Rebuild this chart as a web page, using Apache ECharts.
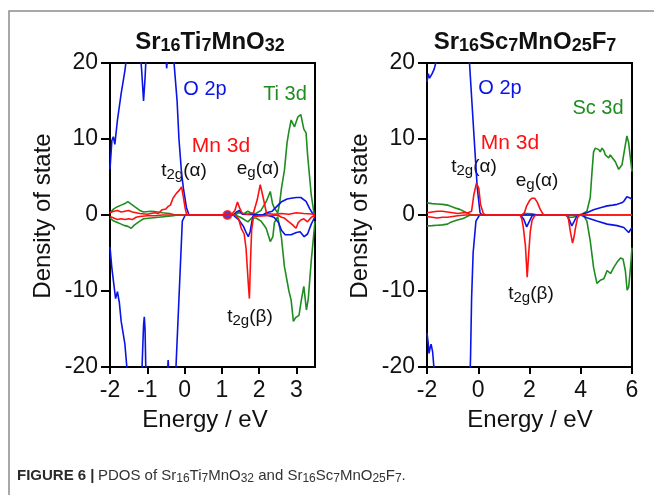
<!DOCTYPE html>
<html>
<head>
<meta charset="utf-8">
<script src="https://cdn.jsdelivr.net/npm/echarts@6/dist/echarts.min.js"></script>
<style>
  html, body { margin: 0; padding: 0; background: #fff; }
  #main { width: 654px; height: 495px; }
</style>
</head>
<body>
<div id="main"></div>
<script>
// ---- data: [energy (eV), density of state] ----
// left panel: Sr16Ti7MnO32
const leftO2pUp = [[-2, 6], [-1.95, 9.8], [-1.91, 10.3], [-1.87, 9.3], [-1.8, 12.5], [-1.7, 16], [-1.6, 19], [-1.5, 23], [-1.3, 26], [-1.2, 22], [-1.15, 19], [-1.1, 15], [-1.06, 18], [-1.02, 22], [-0.8, 26], [-0.6, 25], [-0.5, 21], [-0.48, 19.3], [-0.45, 21], [-0.35, 25], [-0.29, 20.5], [-0.2, 15], [-0.15, 10], [-0.08, 5.5], [-0.03, 3.5], [0.05, 1], [0.12, 0], [1.3, 0], [1.4, 0.4], [1.47, 0.6], [1.55, 0.1], [2.1, 0], [2.2, 0.3], [2.35, 0.5], [2.45, 1.0], [2.59, 1.7], [2.75, 2.1], [2.86, 2.2], [3.0, 2.3], [3.12, 2.3], [3.26, 1.8], [3.36, 0.8], [3.46, 0], [3.5, 0]];
const leftO2pDown = [[-2, -4.2], [-1.95, -7], [-1.9, -9], [-1.85, -11], [-1.8, -10.1], [-1.75, -11.5], [-1.7, -14], [-1.6, -17], [-1.54, -20.5], [-1.4, -25], [-1.2, -24], [-1.14, -20], [-1.1, -14.5], [-1.08, -13.4], [-1.06, -15], [-1.04, -20], [-0.9, -25], [-0.6, -24], [-0.46, -21], [-0.44, -19.1], [-0.42, -21], [-0.3, -25], [-0.23, -20], [-0.15, -11], [-0.06, -0.8], [0.02, 0], [1.3, 0], [1.45, -0.6], [1.58, -1.5], [1.66, -2.4], [1.71, -2.85], [1.76, -2.2], [1.83, -0.2], [1.9, 0], [2.2, 0], [2.4, -0.3], [2.52, -1.0], [2.6, -2.0], [2.7, -2.6], [2.86, -2.6], [3.0, -2.3], [3.1, -2.2], [3.21, -2.85], [3.3, -2.5], [3.4, -1.2], [3.5, -0.2]];
const leftMnUp = [[-2, 0.3], [-1.9, 0.5], [-1.8, 0.6], [-1.7, 0.4], [-1.6, 0.5], [-1.5, 0.6], [-1.4, 0.4], [-1.3, 0.3], [-1.2, 0.2], [-1.0, 0.1], [-0.8, 0.3], [-0.7, 0.2], [-0.6, 0.7], [-0.5, 0.8], [-0.45, 1.1], [-0.38, 1.3], [-0.31, 2.2], [-0.22, 2.85], [-0.15, 3.2], [-0.08, 3.7], [-0.04, 2.6], [0.02, 0.8], [0.06, 0], [1.25, 0], [1.35, 0.6], [1.42, 1.7], [1.48, 0.9], [1.55, 0.2], [1.7, 0.1], [1.85, 0.3], [1.95, 2.0], [2.03, 4.0], [2.1, 2.5], [2.2, 0.2], [2.4, 0.1], [2.6, 0.2], [2.8, 0.1], [3.0, 0.3], [3.2, 0.2], [3.5, 0.1]];
const leftMnDown = [[-2, -0.2], [-1.9, -0.4], [-1.8, -0.6], [-1.7, -0.5], [-1.6, -0.6], [-1.5, -0.5], [-1.4, -0.6], [-1.3, -0.3], [-1.2, -0.2], [-1.0, -0.1], [-0.8, -0.1], [-0.6, 0], [1.35, 0], [1.45, -0.5], [1.52, -1.75], [1.6, -2.5], [1.65, -4.4], [1.71, -9], [1.74, -11], [1.77, -6], [1.8, -2.0], [1.85, -0.2], [1.9, 0], [2.5, 0], [2.6, -0.3], [2.68, -0.4], [2.8, -0.9], [2.9, -1.3], [2.99, -1.75], [3.05, -1.0], [3.12, -0.66], [3.2, -0.5], [3.3, -0.9], [3.4, -0.3], [3.5, -0.1]];
const leftTiUp = [[-2, 0.3], [-1.9, 0.8], [-1.8, 1.1], [-1.7, 1.3], [-1.6, 1.5], [-1.52, 1.75], [-1.45, 1.5], [-1.34, 1.1], [-1.2, 0.6], [-1.1, 0.4], [-0.9, 0.5], [-0.8, 0.45], [-0.6, 0.3], [-0.4, 0.2], [-0.25, 0], [1.35, 0], [1.45, 0.3], [1.6, 0.2], [1.7, 0.5], [1.8, 0.2], [1.92, 0.2], [2.05, 0.6], [2.19, 1.75], [2.3, 3.1], [2.36, 1.5], [2.41, 0.9], [2.5, 0.3], [2.55, 1.5], [2.6, 3.5], [2.68, 5.9], [2.75, 9.5], [2.8, 11], [2.86, 12.5], [2.95, 11.6], [3.04, 12.9], [3.12, 13.2], [3.2, 11.3], [3.26, 10.8], [3.3, 8], [3.4, 2.6], [3.48, 0], [3.5, 0]];
const leftTiDown = [[-2, -0.4], [-1.9, -0.8], [-1.8, -1.0], [-1.7, -1.2], [-1.6, -1.4], [-1.52, -1.5], [-1.43, -1.75], [-1.34, -1.3], [-1.2, -0.8], [-1.1, -0.5], [-0.9, -0.4], [-0.7, -0.3], [-0.5, -0.2], [-0.3, -0.1], [-0.2, 0], [1.35, 0], [1.5, -0.3], [1.7, -0.9], [1.8, -0.4], [1.92, -0.4], [2.05, -0.8], [2.19, -1.75], [2.3, -3.5], [2.37, -2.85], [2.41, -1.0], [2.5, -0.2], [2.6, -3], [2.68, -6.8], [2.8, -10], [2.86, -11.2], [2.92, -14], [2.98, -13.5], [3.07, -13.2], [3.14, -11], [3.2, -9.4], [3.27, -12.5], [3.32, -11], [3.4, -6], [3.5, -0.8]];
const leftDot = [[1.15, 0]];

// right panel: Sr16Sc7MnO25F7
const rightO2pUp = [[-2, 17.5], [-1.95, 18.6], [-1.9, 18.0], [-1.85, 17.8], [-1.8, 18.6], [-1.72, 19.2], [-1.62, 20.5], [-1.5, 24], [-1.0, 27], [-0.6, 26], [-0.4, 23], [-0.35, 20.5], [-0.25, 15], [-0.16, 10.1], [-0.04, 3.6], [0.07, 0.3], [0.15, 0], [3.9, 0], [4.05, 0.1], [4.24, 0.3], [4.5, 0.7], [4.8, 1.0], [5.03, 1.2], [5.25, 1.3], [5.42, 1.4], [5.6, 1.6], [5.68, 1.8], [5.8, 2.4], [5.87, 2.5], [5.95, 2.2], [6, 2.0]];
const rightO2pDown = [[-2, -15.5], [-1.95, -17], [-1.92, -18.2], [-1.88, -17.5], [-1.84, -17.0], [-1.78, -18.0], [-1.72, -20.5], [-1.5, -25], [-0.8, -26], [-0.4, -23], [-0.32, -21], [-0.3, -18.6], [-0.26, -11], [-0.2, -5], [-0.09, -0.8], [0.05, 0], [1.65, 0], [1.78, -0.6], [1.89, -1.56], [2.0, -0.8], [2.1, -0.1], [2.2, 0], [3.45, 0], [3.55, -0.6], [3.65, -1.43], [3.75, -0.8], [3.85, -0.1], [4.0, 0], [4.24, -0.35], [4.63, -0.8], [5.03, -1.2], [5.42, -1.4], [5.68, -1.65], [5.87, -2.3], [6, -1.65]];
const rightMnUp = [[-2, 0.3], [-1.8, 0.4], [-1.6, 0.5], [-1.4, 0.5], [-1.2, 0.4], [-1.0, 0.3], [-0.8, 0.2], [-0.6, 0.3], [-0.4, 0.3], [-0.26, 0.5], [-0.17, 2.7], [-0.07, 4.2], [-0.03, 4.3], [0.02, 3.5], [0.09, 1.4], [0.2, 0.17], [0.3, 0], [1.7, 0], [1.8, 0.3], [1.89, 1.2], [2.0, 1.9], [2.09, 2.2], [2.2, 2.2], [2.3, 1.7], [2.42, 0.74], [2.55, 0], [6, 0]];
const rightMnDown = [[-2, -0.2], [-1.8, -0.3], [-1.6, -0.4], [-1.4, -0.3], [-1.2, -0.3], [-1.0, -0.2], [-0.8, -0.1], [-0.5, 0], [1.63, 0], [1.7, -0.5], [1.76, -1.65], [1.84, -4], [1.91, -8.2], [1.97, -5], [2.03, -2.2], [2.1, -0.7], [2.2, -0.1], [2.3, 0], [3.45, 0], [3.52, -0.5], [3.59, -2.1], [3.68, -3.7], [3.73, -3.0], [3.79, -1.8], [3.87, -0.4], [3.95, 0], [6, 0]];
const rightScUp = [[-2, 1.6], [-1.8, 1.5], [-1.6, 1.45], [-1.4, 1.4], [-1.2, 1.3], [-1.1, 1.17], [-0.95, 1.0], [-0.85, 0.87], [-0.72, 0.74], [-0.59, 0.52], [-0.45, 0.3], [-0.3, 0.05], [-0.2, 0], [1.7, 0], [1.85, 0.2], [2.1, 0.15], [2.3, 0], [3.9, 0], [4.05, 0.1], [4.24, 0.5], [4.37, 2.3], [4.44, 5.7], [4.5, 8.3], [4.57, 8.8], [4.63, 8.7], [4.7, 8.6], [4.76, 8.3], [4.83, 8.8], [4.9, 8.5], [4.96, 7.9], [5.09, 7.5], [5.15, 7.9], [5.22, 7.9], [5.35, 7.0], [5.48, 6.0], [5.55, 5.8], [5.61, 6.6], [5.68, 8], [5.74, 9.2], [5.8, 10.4], [5.87, 9.5], [5.91, 8.3], [6, 5.7]];
const rightScDown = [[-2, -1.43], [-1.8, -1.4], [-1.6, -1.35], [-1.4, -1.3], [-1.2, -1.2], [-1.1, -1.0], [-0.85, -0.7], [-0.59, -0.45], [-0.4, -0.15], [-0.3, 0], [3.4, 0], [3.55, -0.3], [3.7, -0.3], [3.9, 0], [4.1, 0], [4.24, -0.8], [4.37, -3.4], [4.5, -6.9], [4.63, -9.0], [4.76, -8.6], [4.9, -8.4], [5.03, -7.3], [5.16, -7.7], [5.29, -6.9], [5.42, -6.2], [5.55, -5.65], [5.65, -5.8], [5.74, -7.3], [5.81, -9.9], [5.87, -9.5], [5.94, -7.0], [6, -4.3]];

// tick labels
const leftXTicks = [-2, -1, 0, 1, 2, 3];
const rightXTicks = [-2, 0, 2, 4, 6];
const yTicks = [-20, -10, 0, 10, 20];

const FONT = '"Liberation Sans", Arial, Helvetica, sans-serif';
const BLUE = '#0a14e6';
const RED = '#ff1010';
const GREEN = '#1f8c1f';

const chart = echarts.init(document.getElementById('main'));

// x / y axis settings shared by both panels
function xAxisFor (gridIndex, max, interval, ticks) {
  return {
    type: 'value', gridIndex: gridIndex, min: -2, max: max, interval: interval,
    axisLine: { show: true, onZero: false, lineStyle: { color: '#000', width: 2 } },
    axisTick: { show: true, length: 7, customValues: ticks, lineStyle: { color: '#000', width: 2 } },
    axisLabel: { customValues: ticks, margin: 12, color: '#111', fontSize: 23, fontFamily: FONT },
    splitLine: { show: false }
  }
}
function yAxisFor (gridIndex) {
  return {
    type: 'value', gridIndex: gridIndex, min: -20, max: 20, interval: 10,
    axisLine: { show: true, onZero: false, lineStyle: { color: '#000', width: 2 } },
    axisTick: { show: true, length: 9, customValues: yTicks, lineStyle: { color: '#000', width: 2 } },
    axisLabel: { customValues: yTicks, margin: 12, color: '#111', fontSize: 23, fontFamily: FONT },
    splitLine: { show: false }
  }
}
function line (idx, data, color) {
  return {
    type: 'line', xAxisIndex: idx, yAxisIndex: idx, data: data,
    symbol: 'none', smooth: false, clip: true, silent: true,
    lineStyle: { color: color, width: 1.6 }
  }
}

// rich styles for subscripts
const titleRich = {
  n: { fontSize: 24, fontWeight: 'bold', fontFamily: FONT, lineHeight: 27, fill: '#111', verticalAlign: 'middle' },
  s: { fontSize: 18, fontWeight: 'bold', fontFamily: FONT, lineHeight: 18, fill: '#111', verticalAlign: 'bottom' }
}
function labelRich (color) {
  return {
    n: { fontSize: 19, fontFamily: FONT, lineHeight: 22, fill: color, verticalAlign: 'middle' },
    s: { fontSize: 15, fontFamily: FONT, lineHeight: 14, fill: color, verticalAlign: 'bottom' }
  }
}
function txt (x, y, text, size, color, extra) {
  return Object.assign({
    type: 'text', x: x, y: y, silent: true,
    style: { text: text, fontSize: size, fontFamily: FONT, fill: color, align: 'center', verticalAlign: 'middle' }
  }, extra || {})
}
function richTxt (x, y, text, rich) {
  return {
    type: 'text', x: x, y: y, silent: true,
    style: { text: text, rich: rich, align: 'center', verticalAlign: 'middle' }
  }
}

const option = {
  animation: false,
  backgroundColor: '#fff',
  grid: [
    { left: 110, top: 63, width: 205, height: 304, show: true, borderColor: '#000', borderWidth: 2, outerBoundsMode: 'none', containLabel: false },
    { left: 427, top: 63, width: 205, height: 304, show: true, borderColor: '#000', borderWidth: 2, outerBoundsMode: 'none', containLabel: false }
  ],
  xAxis: [xAxisFor(0, 3.5, 1, leftXTicks), xAxisFor(1, 6, 2, rightXTicks)],
  yAxis: [yAxisFor(0), yAxisFor(1)],
  series: [
    line(0, leftTiUp, GREEN), line(0, leftTiDown, GREEN),
    line(0, leftO2pUp, BLUE), line(0, leftO2pDown, BLUE),
    line(0, leftMnUp, RED), line(0, leftMnDown, RED),
    {
      type: 'scatter', xAxisIndex: 0, yAxisIndex: 0, data: leftDot, symbolSize: 8, silent: true,
      itemStyle: { color: BLUE, borderColor: RED, borderWidth: 2 }
    },
    line(1, rightScUp, GREEN), line(1, rightScDown, GREEN),
    line(1, rightO2pUp, BLUE), line(1, rightO2pDown, BLUE),
    line(1, rightMnUp, RED), line(1, rightMnDown, RED)
  ],
  graphic: [
    // outer figure frame
    { type: 'polyline', silent: true, shape: { points: [[9, 495], [9, 11], [654, 11]] }, style: { stroke: '#8c8c8c', lineWidth: 1.5, fill: null } },
    // panel titles
    richTxt(210, 42, '{n|Sr}{s|16}{n|Ti}{s|7}{n|MnO}{s|32}', titleRich),
    richTxt(525, 42, '{n|Sr}{s|16}{n|Sc}{s|7}{n|MnO}{s|25}{n|F}{s|7}', titleRich),
    // axis names
    txt(43, 216, 'Density of state', 24, '#111', { rotation: Math.PI / 2 }),
    txt(360, 216, 'Density of state', 24, '#111', { rotation: Math.PI / 2 }),
    txt(205, 420, 'Energy / eV', 24, '#111'),
    txt(530, 420, 'Energy / eV', 24, '#111'),
    // left annotations
    txt(205, 89, 'O 2p', 20, BLUE),
    txt(285, 94, 'Ti 3d', 20, GREEN),
    txt(221, 146, 'Mn 3d', 21, RED),
    richTxt(184, 171, '{n|t}{s|2g}{n|(α)}', labelRich('#111')),
    richTxt(258, 169, '{n|e}{s|g}{n|(α)}', labelRich('#111')),
    richTxt(250, 317, '{n|t}{s|2g}{n|(β)}', labelRich('#111')),
    // right annotations
    txt(500, 88, 'O 2p', 20, BLUE),
    txt(598, 108, 'Sc 3d', 20, GREEN),
    txt(510, 143, 'Mn 3d', 21, RED),
    richTxt(474, 167, '{n|t}{s|2g}{n|(α)}', labelRich('#111')),
    richTxt(537, 181, '{n|e}{s|g}{n|(α)}', labelRich('#111')),
    richTxt(531, 294, '{n|t}{s|2g}{n|(β)}', labelRich('#111')),
    // caption
    {
      type: 'text', x: 17, y: 476, silent: true,
      style: {
        text: '{b|FIGURE 6 |} {n|PDOS of Sr}{s|16}{n|Ti}{s|7}{n|MnO}{s|32}{n| and Sr}{s|16}{n|Sc}{s|7}{n|MnO}{s|25}{n|F}{s|7}{n|.}',
        align: 'left', verticalAlign: 'middle',
        rich: {
          b: { fontSize: 15, fontWeight: 'bold', fontFamily: FONT, fill: '#2a2a2a', lineHeight: 18, verticalAlign: 'middle' },
          n: { fontSize: 15, fontFamily: FONT, fill: '#333', lineHeight: 18, verticalAlign: 'middle' },
          s: { fontSize: 12, fontFamily: FONT, fill: '#333', lineHeight: 12, verticalAlign: 'bottom' }
        }
      }
    }
  ]
};

chart.setOption(option);
</script>
</body>
</html>
